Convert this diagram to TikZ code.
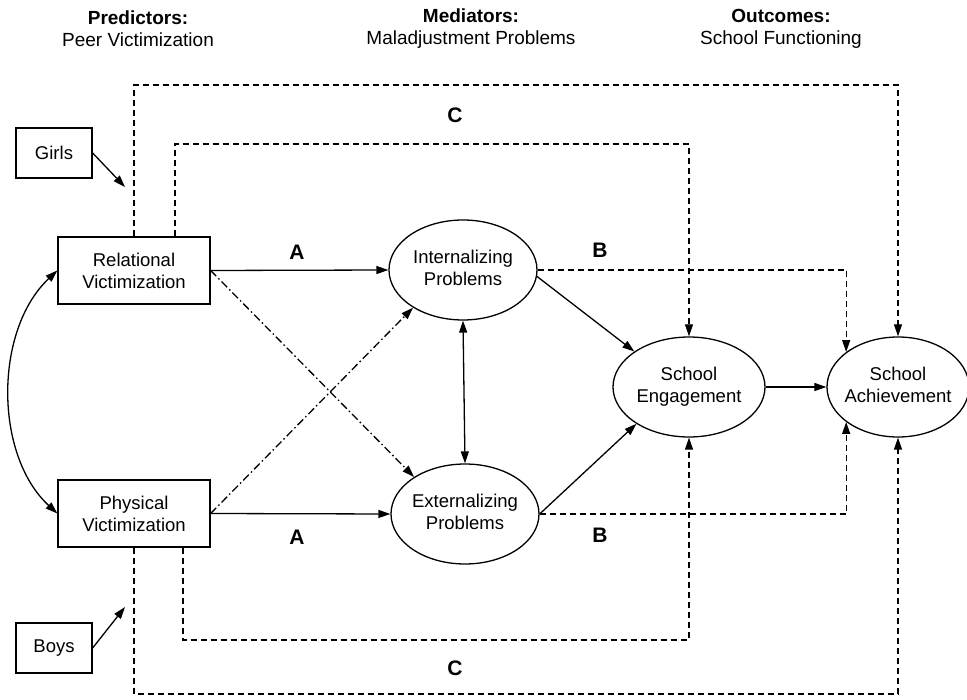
\documentclass[tikz,border=0pt]{standalone}
\usepackage{fontspec}
\setmainfont{Liberation Sans}
\usetikzlibrary{arrows.meta,shapes.geometric,calc}

% centred multi-line text that does not widen its node
\newcommand\ovaltext[1]{\makebox[0pt]{\begin{tabular}{@{}c@{}}#1\end{tabular}}}

\begin{document}
\begin{tikzpicture}[x=1pt,y=-1pt,
  every node/.style={font=\fontsize{18.5}{22}\selectfont},
  header/.style={font=\fontsize{19}{22}\selectfont, align=center},
  pathlabel/.style={font=\fontsize{21}{24}\selectfont\bfseries},
  box/.style={draw, line width=1.3pt, minimum width=152pt, minimum height=67pt,
              inner sep=0pt, align=center},
  groupbox/.style={draw, line width=1.3pt, minimum width=76pt, minimum height=50pt,
                   inner sep=0pt},
  oval/.style={draw, ellipse, line width=1.3pt, inner sep=0pt,
               minimum width=148pt, minimum height=100pt},
  tip/.style={Triangle[length=12pt,width=8pt]},
  link/.style={line width=1.3pt, -{Triangle[length=12pt,width=8pt]}},
  twoway/.style={line width=1.3pt, {Triangle[length=12pt,width=8pt]}-{Triangle[length=12pt,width=8pt]}},
  direct/.style={link, dash pattern=on 6pt off 4pt},
  cross/.style={link, dash pattern=on 8pt off 3pt on 1.5pt off 3pt},
]
\useasboundingbox (0,0) rectangle (967,700);

% column headings
\node[header] (hpred) at (138,29) {\textbf{Predictors:}\\Peer Victimization};
\node[header] (hmed)  at (471,29) {\textbf{Mediators:}\\Maladjustment Problems};
\node[header] (hout)  at (781,29) {\textbf{Outcomes:}\\School Functioning};

% group boxes
\node[groupbox] (girls) at (54,153) {Girls};
\node[groupbox] (boys)  at (54,648) {Boys};

% predictors
\node[box] (rel)  at (134,270.5) {Relational\\Victimization};
\node[box] (phys) at (134,513.5) {Physical\\Victimization};

% mediators
\node[oval] (int) at (463,270) {\ovaltext{Internalizing\\Problems}};
\node[oval] (ext) at (465,514) {\ovaltext{Externalizing\\Problems}};

% outcomes
\node[oval, minimum width=152pt] (eng) at (689,387) {\ovaltext{School\\Engagement}};
\node[oval, minimum width=142pt] (ach) at (898,387) {\ovaltext{School\\Achievement}};

% moderator arrows
\coordinate (gtip) at (125,187);
\coordinate (btip) at (125,607);
\draw[link] (girls.east) -- (gtip);
\draw[link] (boys.east) -- (btip);

% correlation between predictors
\draw[twoway] (rel.west) .. controls (-6,330) and (-6,455) .. (phys.west);

% A paths
\draw[link] (rel.east) -- (int.west);
\draw[link] (phys.east) -- (ext.west);
\draw[cross] (rel.east) -- (ext.144);
\draw[cross] (phys.east) -- (int.217);

% mediator correlation
\draw[twoway] (int.south) -- (ext.north);

% mediators to engagement
\draw[link] (int.-5) -- (eng.147);
\draw[link] (ext.east) -- (eng.215);
\draw[link] (eng.east) -- (ach.west);

% B paths to achievement
\draw[direct] (int.east) -| (ach.146);
\draw[direct] (ext.east) -| (ach.214);

% C paths (direct effects)
\coordinate (relin) at ($(rel.north)+(41,0)$);
\coordinate (physin) at ($(phys.south)+(49,0)$);
\draw[direct] (rel.north) |- (898,85) -- (ach.north);
\draw[direct] (relin) |- (689,144) -- (eng.north);
\draw[direct] (phys.south) |- (898,694) -- (ach.south);
\draw[direct] (physin) |- (689,640) -- (eng.south);

% path labels
\node[pathlabel] (a1) at (297,252) {A};
\node[pathlabel] (a2) at (297,537) {A};
\node[pathlabel] (b1) at (600,250) {B};
\node[pathlabel] (b2) at (600,535) {B};
\node[pathlabel] (c1) at (455,115) {C};
\node[pathlabel] (c2) at (455,668) {C};
\end{tikzpicture}
\end{document}
